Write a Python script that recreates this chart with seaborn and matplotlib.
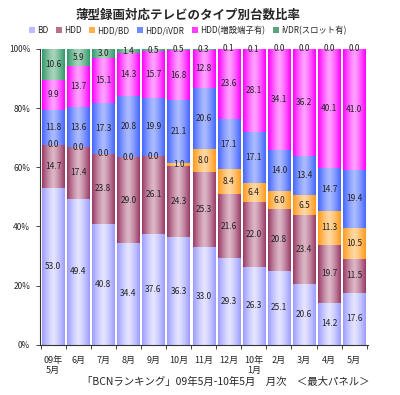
import numpy as np
import pandas as pd
import matplotlib
matplotlib.use("Agg")
import matplotlib.pyplot as plt
from matplotlib.colors import LinearSegmentedColormap
import seaborn as sns

# =========================
# DATA
# =========================

months = ["09年\n5月", "6月", "7月", "8月", "9月", "10月", "11月", "12月",
          "10年\n1月", "2月", "3月", "4月", "5月"]

series_names = ["BD", "HDD", "HDD/BD", "HDD/iVDR", "HDD(増設端子有)", "iVDR(スロット有)"]

bd = [53.0, 49.4, 40.8, 34.4, 37.6, 36.3, 33.0, 29.3, 26.3, 25.1, 20.6, 14.2, 17.6]
hdd = [14.7, 17.4, 23.8, 29.0, 26.1, 24.3, 25.3, 21.6, 22.0, 20.8, 23.4, 19.7, 11.5]
hdd_bd = [0.0, 0.0, 0.0, 0.0, 0.0, 1.0, 8.0, 8.4, 6.4, 6.0, 6.5, 11.3, 10.5]
hdd_ivdr = [11.8, 13.6, 17.3, 20.8, 19.9, 21.1, 20.6, 17.1, 17.1, 14.0, 13.4, 14.7, 19.4]
hdd_ext = [9.9, 13.7, 15.1, 14.3, 15.7, 16.8, 12.8, 23.6, 28.1, 34.1, 36.2, 40.1, 41.0]
ivdr = [10.6, 5.9, 3.0, 1.4, 0.5, 0.5, 0.3, 0.1, 0.1, 0.0, 0.0, 0.0, 0.0]

all_series = [bd, hdd, hdd_bd, hdd_ivdr, hdd_ext, ivdr]
colors = ["#bcbcff", "#b5728a", "#ffb048", "#6f8cff", "#ff3cff", "#5aa57e"]
# edge / centre shades for the shaded bar look
edge_cols = ["#9c9cff", "#993a66", "#ff9a1a", "#4466ff", "#ff00ff", "#33996a"]
mid_cols = ["#e4e4ff", "#dcb6c6", "#ffd8a0", "#aabaff", "#ffa0ff", "#a8d4bc"]

# =========================
# STYLE
# =========================

sns.set_style("white")
plt.rcParams["font.family"] = ["Noto Sans CJK JP", "DejaVu Sans"]

fig = plt.figure(figsize=(4.0, 3.95), dpi=100)
ax = fig.add_axes([0.10, 0.127, 0.82, 0.749])

# =========================
# STACKED BARS
# =========================

bottom = np.zeros(len(months))
for name, vals, col in zip(series_names, all_series, colors):
    df = pd.DataFrame({"month": months, "value": vals})
    sns.barplot(data=df, x="month", y="value", color=col, width=0.88,
                bottom=bottom, ax=ax, label=name, linewidth=0, saturation=1)
    for i, v in enumerate(vals):
        ax.text(i, bottom[i] + v / 2, f"{v:.1f}", ha="center", va="center",
                fontsize=6, color="#222222", zorder=5)
    bottom = bottom + np.array(vals)

# shade each bar segment: darker edges, light centre
grad = np.abs(np.linspace(-1, 1, 64)) ** 1.3
grad = 1 - grad
grad = grad.reshape(1, -1)
n = len(months)
for k, (e, m) in enumerate(zip(edge_cols, mid_cols)):
    cmap = LinearSegmentedColormap.from_list(f"c{k}", [e, m])
    for p in ax.patches[k * n:(k + 1) * n]:
        x, y = p.get_x(), p.get_y()
        w, h = p.get_width(), p.get_height()
        if h <= 0:
            continue
        ax.imshow(grad, cmap=cmap, aspect="auto", extent=[x, x + w, y, y + h],
                  zorder=p.get_zorder() + 0.1, interpolation="bilinear")

# =========================
# AXES
# =========================

ax.set_xlim(-0.52, len(months) - 0.45)
ax.set_ylim(0, 100)
ax.set_yticks([0, 20, 40, 60, 80, 100])
ax.set_yticklabels(["0%", "20%", "40%", "60%", "80%", "100%"], fontsize=6)
ax.tick_params(axis="y", length=3, width=0.6, pad=4, left=True)
ax.tick_params(axis="x", length=0, labelsize=6.5, pad=8)
ax.set_xticks(np.arange(-0.5, len(months) + 0.5, 1.0), minor=True)
ax.tick_params(axis="x", which="minor", length=3, width=0.6, bottom=True)
ax.set_xlabel("")
ax.set_ylabel("")
for side in ["top", "right"]:
    ax.spines[side].set_visible(False)
for side in ["left", "bottom"]:
    ax.spines[side].set_color("#333333")
    ax.spines[side].set_linewidth(0.8)
    ax.spines[side].set_zorder(6)

# =========================
# TITLE / LEGEND / NOTE
# =========================

fig.text(0.47, 0.962, "薄型録画対応テレビのタイプ別台数比率", ha="center", va="center",
         fontsize=9, fontweight="bold")

ax.legend(loc="lower center", bbox_to_anchor=(0.45, 1.035), ncol=6, frameon=False,
          fontsize=6, handlelength=0.7, handleheight=0.7, handletextpad=0.3,
          columnspacing=0.9, borderaxespad=0)

fig.text(0.565, 0.033, "「BCNランキング」09年5月-10年5月　月次　＜最大パネル＞",
         ha="center", va="center", fontsize=7.5)

plt.savefig("out.png", dpi=100)
